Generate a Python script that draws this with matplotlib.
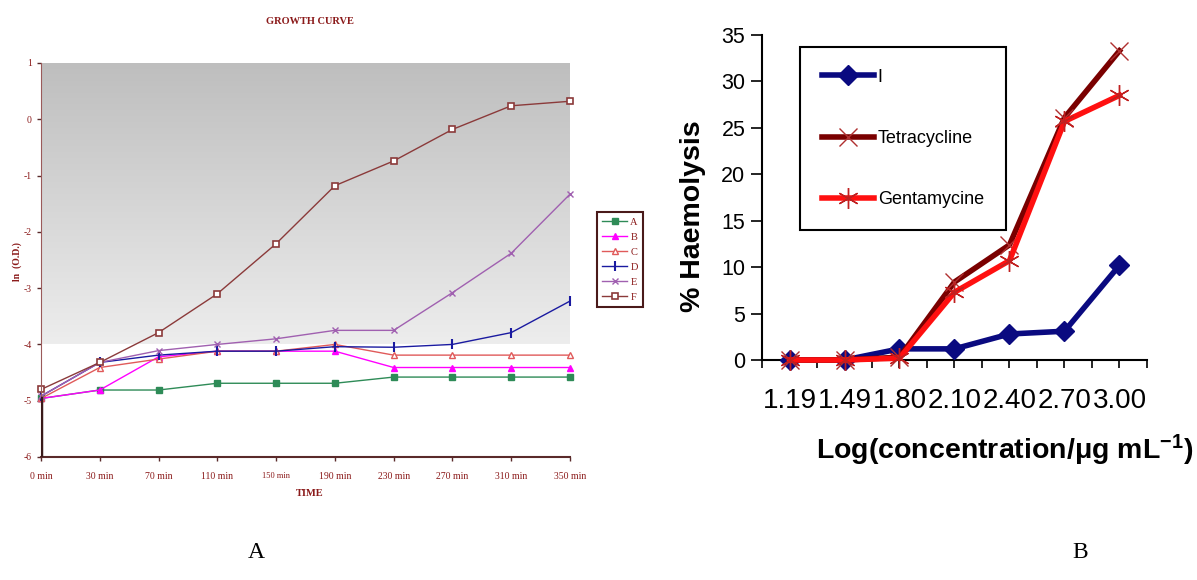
import numpy as np
import matplotlib
matplotlib.use('Agg')
import matplotlib.pyplot as plt

plt.rcParams['mathtext.fontset'] = 'custom'
plt.rcParams['mathtext.rm'] = 'Liberation Sans:bold'
plt.rcParams['mathtext.it'] = 'Liberation Sans:bold'
plt.rcParams['mathtext.bf'] = 'Liberation Sans:bold'

# growth curve data, ln(O.D.)
times = ['0 min', '30 min', '70 min', '110 min', '150 min', '190 min',
         '230 min', '270 min', '310 min', '350 min']
A = [-4.96, -4.81, -4.81, -4.69, -4.69, -4.69, -4.58, -4.58, -4.58, -4.58]
B = [-4.96, -4.81, -4.22, -4.12, -4.12, -4.12, -4.41, -4.41, -4.41, -4.41]
C = [-4.96, -4.41, -4.26, -4.12, -4.12, -4.00, -4.19, -4.19, -4.19, -4.19]
D = [-4.92, -4.32, -4.19, -4.12, -4.12, -4.04, -4.05, -4.00, -3.79, -3.23]
E = [-4.92, -4.32, -4.11, -4.00, -3.90, -3.75, -3.75, -3.08, -2.38, -1.33]
F = [-4.80, -4.32, -3.79, -3.10, -2.21, -1.18, -0.74, -0.18, 0.24, 0.32]

# haemolysis data
conc = ['1.19', '1.49', '1.80', '2.10', '2.40', '2.70', '3.00']
comp_I = [0, 0, 1.2, 1.2, 2.8, 3.1, 10.2]
tetra = [0, 0, 0.3, 8.4, 12.4, 26.1, 33.3]
genta = [0, 0, 0.2, 7.3, 10.7, 25.7, 28.5]

dark = '#8b1a1a'
serif = 'Liberation Serif'
sans = 'Liberation Sans'

fig = plt.figure(figsize=(11.97, 5.8), dpi=100)

# ---------------- A: growth curve ----------------
ax = fig.add_axes([41/1197, 1-457/580, 529/1197, 394/580])
x = np.arange(len(times))
grad = np.linspace(0, 1, 256).reshape(-1, 1)
cm = matplotlib.colors.LinearSegmentedColormap.from_list('g', ['#bebebe', '#ededed'])
ax.imshow(grad, cmap=cm, origin='upper', extent=[0, len(times)-1, -4, 1],
          aspect='auto', zorder=0)

ax.plot(x, A, color='#2e8b57', marker='s', ms=4, lw=1, label='A', clip_on=False)
ax.plot(x, B, color='#ff00ff', marker='^', ms=4, lw=1, label='B', clip_on=False)
ax.plot(x, C, color='#e05a5a', marker='^', ms=4, mfc='white', lw=1, label='C', clip_on=False)
ax.plot(x, D, color='#1a1aa0', marker='|', ms=7, mew=1.5, lw=1, label='D', clip_on=False)
ax.plot(x, E, color='#a060b0', marker='x', ms=4, lw=1, label='E', clip_on=False)
ax.plot(x, F, color='#8b3a3a', marker='s', ms=4.5, mfc='white', mew=1.2, lw=1, label='F', clip_on=False)

ax.set_xlim(0, len(times)-1)
ax.set_ylim(-6, 1)
ax.set_yticks(range(-6, 2))
ax.set_yticklabels([str(v) for v in range(-6, 2)])
ax.set_xticks(x)
ax.set_xticklabels(times)
for s in ['top', 'right']:
    ax.spines[s].set_visible(False)
ax.spines['left'].set_color('#9a5a5a')
ax.spines['bottom'].set_color('#5a2a2a')
ax.spines['bottom'].set_linewidth(1.5)
ax.axvline(0, 0, (A[0]+6)/7, color='#3a1a1a', lw=2.5, zorder=5)
ax.tick_params(axis='both', colors='#5a2a2a', labelcolor=dark, labelsize=7, length=3, width=1)
ax.tick_params(axis='x', pad=8)
for lab in ax.get_xticklabels() + ax.get_yticklabels():
    lab.set_fontfamily(serif)
ax.get_xticklabels()[4].set_fontsize(6)

fig.text(310/1197, 1-22/580, 'GROWTH CURVE', ha='center', va='center',
         fontsize=7.5, fontweight='bold', color=dark, family=serif)
fig.text(310/1197, 1-494/580, 'TIME', ha='center', va='center',
         fontsize=7.5, fontweight='bold', color=dark, family=serif)
fig.text(17/1197, 1-262/580, 'ln  (O.D.)', ha='center', va='center', rotation=90,
         fontsize=7, fontweight='bold', color=dark, family=serif)

leg = ax.legend(loc='center left', bbox_to_anchor=(597/1197, 1-259.5/580),
                bbox_transform=fig.transFigure, prop={'family': serif, 'size': 7.5},
                handlelength=2.4, handletextpad=0.3, labelspacing=0.55,
                borderpad=0.5, fancybox=False, framealpha=1, borderaxespad=0)
leg.get_frame().set_edgecolor('#4a1a1a')
leg.get_frame().set_linewidth(1.5)
for t in leg.get_texts():
    t.set_color(dark)

# ---------------- B: haemolysis ----------------
ax2 = fig.add_axes([762/1197, 1-360/580, 385/1197, 325/580])
xc = np.arange(len(conc))
ax2.plot(xc, comp_I, color='#0a0a80', marker='D', ms=10, lw=4, label='I', clip_on=False, zorder=3)
ax2.plot(xc, tetra, color='#7a0000', marker='x', ms=13, mec='#b03030', mew=1, lw=4,
         label='Tetracycline', clip_on=False, zorder=4)
ax2.plot(xc, genta, color='#ff1010', marker=(6, 2, 0), ms=15, mec='#c02020', mew=1, lw=4,
         label='Gentamycine', clip_on=False, zorder=5)

ax2.set_xlim(-0.5, len(conc)-0.5)
ax2.set_ylim(0, 35)
ax2.set_yticks(range(0, 36, 5))
ax2.set_xticks(xc)
ax2.set_xticklabels(conc)
ax2.set_xticks(np.arange(-0.5, len(conc), 1), minor=True)
for s in ['top', 'right']:
    ax2.spines[s].set_visible(False)
for s in ['left', 'bottom']:
    ax2.spines[s].set_linewidth(1.5)
ax2.tick_params(axis='y', labelsize=15.5, length=8, width=1.2, pad=4)
ax2.tick_params(axis='x', which='both', labelsize=20, length=6, width=1.2, pad=14)
for lab in ax2.get_xticklabels() + ax2.get_yticklabels():
    lab.set_fontfamily(sans)

ax2.set_ylabel('% Haemolysis', fontsize=20.5, fontweight='bold', family=sans, labelpad=0)
ax2.yaxis.set_label_coords(-0.146, 0.443)
fig.text(1005/1197, 1-450/580, 'Log(concentration/\u03bcg mL$^{-1}$)', ha='center', va='center',
         fontsize=20.5, fontweight='bold', family=sans)

leg2 = ax2.legend(loc='upper left', bbox_to_anchor=(0.099, 0.963), borderaxespad=0,
                  prop={'family': sans, 'size': 13}, handlelength=2.9, handletextpad=0.2,
                  labelspacing=2.45, borderpad=1.2, fancybox=False, framealpha=1)
leg2.get_frame().set_edgecolor('black')
leg2.get_frame().set_linewidth(1.5)

fig.text(256/1197, 1-553/580, 'A', ha='center', va='center', fontsize=17, family=serif)
fig.text(1080/1197, 1-553/580, 'B', ha='center', va='center', fontsize=17, family=serif)

fig.savefig('out.png', dpi=100)
